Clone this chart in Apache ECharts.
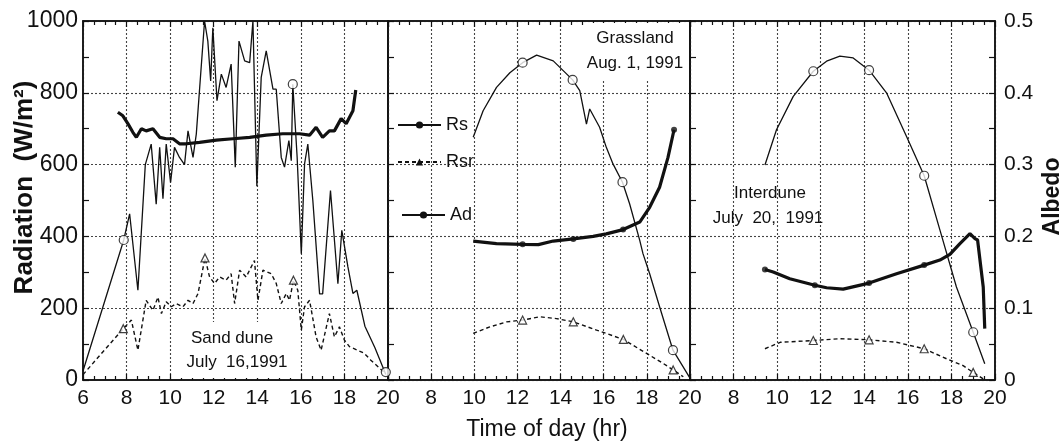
<!DOCTYPE html>
<html><head><meta charset="utf-8">
<script src="https://cdn.jsdelivr.net/npm/echarts@6/dist/echarts.min.js"></script>
<style>html,body{margin:0;padding:0;background:#fff}#c{width:1062px;height:443px}</style>
</head><body><div id="c"></div>
<script>
// ---- axes ----
const timeMin = 6, timeMax = 20, timeStep = 2;
const radMin = 0, radMax = 1000, radStep = 200;
const albMin = 0, albMax = 0.5, albStep = 0.1;
const panelNames = ['Sand dune', 'Grassland', 'Interdune'];
const seriesNames = ['Rs', 'Rsr', 'Ad'];

// ---- Sand dune, July 16, 1991 ----  [hour, W/m2] / [hour, albedo]
const duneRs = [[6.0,25],[7.87,390],[8.14,463],[8.52,250],[8.86,600],[9.13,657],[9.36,490],[9.52,648],[9.67,505],[9.82,657],[10.02,550],[10.2,648],[10.43,620],[10.66,600],[10.82,694],[11.05,620],[11.2,685],[11.58,1000],[11.73,944],[11.86,833],[11.96,981],[12.15,778],[12.35,852],[12.57,815],[12.8,880],[12.99,593],[13.16,944],[13.42,889],[13.65,884],[13.8,1000],[13.98,540],[14.18,843],[14.41,917],[14.72,810],[14.87,810],[15.1,620],[15.25,593],[15.45,667],[15.56,611],[15.63,824],[15.83,620],[16.02,352],[16.17,602],[16.32,657],[16.55,500],[16.86,240],[17.0,240],[17.36,528],[17.7,268],[17.88,417],[18.16,315],[18.39,241],[18.57,250],[18.94,150],[19.4,90],[19.9,15]];
const duneRsr = [[6.0,15],[7.85,143],[8.22,167],[8.52,83],[8.9,222],[9.21,194],[9.44,231],[9.6,185],[9.82,218],[10.05,204],[10.28,213],[10.59,204],[10.82,222],[11.05,213],[11.28,241],[11.6,340],[11.81,287],[12.04,269],[12.27,287],[12.57,278],[12.8,296],[12.96,213],[13.19,306],[13.49,287],[13.87,333],[14.03,222],[14.26,306],[14.64,296],[14.87,269],[15.1,213],[15.33,241],[15.48,222],[15.66,278],[15.86,250],[16.02,139],[16.17,204],[16.4,222],[16.7,120],[16.93,83],[17.31,185],[17.54,120],[17.77,148],[18.0,111],[18.23,93],[18.6,83],[18.9,75],[19.2,56],[19.85,20]];
const duneAd = [[7.6,0.373],[7.83,0.368],[8.06,0.357],[8.29,0.345],[8.45,0.338],[8.68,0.350],[8.9,0.347],[9.21,0.350],[9.52,0.338],[9.82,0.336],[10.13,0.336],[10.43,0.329],[10.74,0.329],[11.35,0.331],[12.12,0.334],[12.88,0.336],[13.65,0.338],[14.41,0.341],[15.17,0.343],[15.94,0.343],[16.4,0.341],[16.7,0.352],[17.0,0.338],[17.31,0.347],[17.54,0.347],[17.85,0.364],[18.08,0.357],[18.39,0.375],[18.52,0.404]];
const duneRsMarks = [[7.87,390],[15.63,824],[19.9,22]];
const duneRsrMarks = [[7.85,143],[11.6,340],[15.66,278]];
const duneAdMarks = [];

// ---- Grassland, Aug. 1, 1991 ----
const grassRs = [[9.95,676],[10.41,750],[11.03,815],[11.65,856],[12.24,884],[12.89,905],[13.66,889],[14.56,836],[14.89,806],[15.2,713],[15.35,755],[15.81,704],[16.12,648],[16.43,602],[16.87,551],[17.2,491],[17.67,389],[17.82,352],[18.13,296],[18.59,204],[19.21,83],[20.0,5]];
const grassRsr = [[9.95,130],[10.72,148],[11.5,162],[12.24,167],[13.04,176],[13.81,171],[14.59,162],[15.67,139],[16.91,113],[17.99,74],[18.76,46],[19.22,28],[19.69,9]];
const grassAd = [[9.95,0.1935],[11.03,0.190],[12.24,0.189],[12.97,0.1885],[13.66,0.1935],[14.59,0.1965],[15.51,0.200],[16.12,0.2035],[16.9,0.2095],[17.67,0.220],[18.13,0.2405],[18.59,0.2685],[18.98,0.310],[19.26,0.3485]];
const grassRsMarks = [[12.24,884],[14.56,836],[16.87,551],[19.21,83]];
const grassRsrMarks = [[12.24,167],[14.59,162],[16.91,113],[19.22,28]];
const grassAdMarks = [[12.24,0.189],[14.59,0.1965],[16.9,0.2095],[19.26,0.3485]];

// ---- Interdune, July 20, 1991 ----
const interRs = [[9.44,599],[9.97,697],[10.74,790],[11.66,860],[12.27,888],[12.88,902],[13.49,897],[14.22,863],[15.02,800],[15.94,678],[16.75,569],[17.47,418],[18.23,259],[19.0,133],[19.53,45]];
const interRsr = [[9.44,87],[10.14,105],[11.66,110],[12.88,115],[14.22,112],[15.48,105],[16.75,87],[17.78,59],[18.54,40],[19.0,21],[19.46,3]];
const interAd = [[9.44,0.154],[9.82,0.1505],[10.58,0.141],[11.73,0.132],[12.27,0.1285],[13.03,0.1265],[14.22,0.135],[15.48,0.148],[16.75,0.160],[17.47,0.167],[17.93,0.175],[18.39,0.190],[18.85,0.204],[19.08,0.197],[19.2,0.195],[19.46,0.1295],[19.53,0.0715]];
const interRsMarks = [[11.66,860],[14.22,863],[16.75,569],[19.0,133]];
const interRsrMarks = [[11.66,110],[14.22,112],[16.75,87],[19.0,21]];
const interAdMarks = [[9.44,0.154],[11.73,0.132],[14.22,0.135],[16.75,0.160]];

const panels = [
  {rs: duneRs, rsr: duneRsr, ad: duneAd, rsM: duneRsMarks, rsrM: duneRsrMarks, adM: duneAdMarks},
  {rs: grassRs, rsr: grassRsr, ad: grassAd, rsM: grassRsMarks, rsrM: grassRsrMarks, adM: grassAdMarks},
  {rs: interRs, rsr: interRsr, ad: interAd, rsM: interRsMarks, rsrM: interRsrMarks, adM: interAdMarks}
];

const INK = '#111';
const FONT = '"Liberation Sans", Arial, sans-serif';
const gridBoxes = [
  {left: 83, top: 21, width: 305, height: 359},
  {left: 388, top: 21, width: 302, height: 359},
  {left: 690, top: 21, width: 305, height: 359}
];
const dotted = {type: [2, 2], color: '#444', width: 1.1};

const grid = gridBoxes.map(b => Object.assign({show: true, borderColor: INK, borderWidth: 1.5, backgroundColor: 'transparent', outerBoundsMode: 'none'}, b));

const xAxis = [];
gridBoxes.forEach((b, i) => {
  xAxis.push({
    type: 'value', gridIndex: i, min: timeMin, max: timeMax, interval: timeStep,
    axisLine: {show: true, onZero: false, lineStyle: {color: INK, width: 1.5}},
    axisTick: {show: true, inside: true, length: 6, lineStyle: {color: INK, width: 1.2}},
    minorTick: {show: true, splitNumber: 4, length: 4, lineStyle: {color: INK, width: 1.2}},
    splitLine: {show: true, lineStyle: dotted},
    axisLabel: {show: true, fontSize: 21, color: INK, fontFamily: FONT, margin: 8,
      showMinLabel: i === 0, showMaxLabel: true, hideOverlap: false, formatter: v => String(v)},
    name: i === 1 ? 'Time of day (hr)' : '',
    nameLocation: 'middle', nameGap: 38, nameMoveOverlap: false,
    nameTextStyle: {fontSize: 23, color: INK, fontFamily: FONT, padding: [0, 0, 0, 16]}
  });
});
gridBoxes.forEach((b, i) => {
  xAxis.push({
    type: 'value', gridIndex: i, min: timeMin, max: timeMax, interval: timeStep, position: 'top',
    axisLine: {show: true, onZero: false, lineStyle: {color: INK, width: 1.5}},
    axisTick: {show: true, inside: true, length: 6, lineStyle: {color: INK, width: 1.2}},
    minorTick: {show: true, splitNumber: 4, length: 4, lineStyle: {color: INK, width: 1.2}},
    splitLine: {show: false}, axisLabel: {show: false}
  });
});

const yAxis = [];
gridBoxes.forEach((b, i) => {
  yAxis.push({
    type: 'value', gridIndex: i, min: radMin, max: radMax, interval: radStep, position: 'left',
    axisLine: {show: true, onZero: false, lineStyle: {color: INK, width: 1.5}},
    axisTick: {show: true, inside: true, length: 6, lineStyle: {color: INK, width: 1.2}},
    minorTick: {show: true, splitNumber: 2, length: 6, lineStyle: {color: INK, width: 1.2}},
    splitLine: {show: true, lineStyle: dotted},
    axisLabel: {show: i === 0, fontSize: 23, color: INK, fontFamily: FONT, margin: 5, hideOverlap: false,
      formatter: v => String(v)},
    name: i === 0 ? 'Radiation  (W/m²)' : '',
    nameLocation: 'middle', nameGap: 45, nameRotate: 90, nameMoveOverlap: false,
    nameTextStyle: {fontSize: 26, fontWeight: 'bold', color: INK, fontFamily: FONT, padding: [0, 0, 0, 26]}
  });
});
gridBoxes.forEach((b, i) => {
  yAxis.push({
    type: 'value', gridIndex: i, min: albMin, max: albMax, interval: albStep, position: 'right',
    show: i === 2,
    axisLine: {show: true, onZero: false, lineStyle: {color: INK, width: 1.5}},
    axisTick: {show: true, inside: true, length: 6, lineStyle: {color: INK, width: 1.2}},
    minorTick: {show: true, splitNumber: 2, length: 6, lineStyle: {color: INK, width: 1.2}},
    splitLine: {show: false},
    axisLabel: {show: true, fontSize: 21, color: INK, fontFamily: FONT, margin: 9, hideOverlap: false,
      formatter: v => (v === 0 ? '0' : v.toFixed(1))},
    name: i === 2 ? 'Albedo' : '',
    nameLocation: 'middle', nameGap: 46, nameRotate: 90, nameMoveOverlap: false,
    nameTextStyle: {fontSize: 23, fontWeight: 'bold', color: INK, fontFamily: FONT, padding: [0, 0, 0, 8]}
  });
});

const series = [];
panels.forEach((p, i) => {
  series.push({name: 'Rs', type: 'line', xAxisIndex: i, yAxisIndex: i, data: p.rs, symbol: 'circle', showSymbol: false,
    itemStyle: {color: INK}, lineStyle: {color: INK, width: 1.3}, z: 3, silent: true, animation: false});
  series.push({name: 'Rsr', type: 'line', xAxisIndex: i, yAxisIndex: i, data: p.rsr, symbol: 'triangle', showSymbol: false,
    itemStyle: {color: INK}, lineStyle: {color: INK, width: 1.4, type: [4, 3]}, z: 3, silent: true, animation: false});
  series.push({name: 'Ad', type: 'line', xAxisIndex: i, yAxisIndex: i + 3, data: p.ad, symbol: 'circle', showSymbol: false,
    itemStyle: {color: INK}, lineStyle: {color: INK, width: 3.2}, z: 4, silent: true, animation: false});
  series.push({name: 'Rs points', type: 'scatter', xAxisIndex: i, yAxisIndex: i, data: p.rsM, symbol: 'circle', symbolSize: 9,
    itemStyle: {color: '#fff', borderColor: INK, borderWidth: 1.2}, z: 5, silent: true, animation: false});
  series.push({name: 'Rsr points', type: 'scatter', xAxisIndex: i, yAxisIndex: i, data: p.rsrM, symbol: 'triangle', symbolSize: 8,
    itemStyle: {color: '#fff', borderColor: INK, borderWidth: 1.2}, z: 5, silent: true, animation: false});
  series.push({name: 'Ad points', type: 'scatter', xAxisIndex: i, yAxisIndex: i + 3, data: p.adM, symbol: 'circle', symbolSize: 6,
    itemStyle: {color: INK}, z: 5, silent: true, animation: false});
});

const legendBase = {orient: 'vertical', itemWidth: 43, itemHeight: 9, itemGap: 0, selectedMode: false,
  textStyle: {fontSize: 18, color: INK, fontFamily: FONT}};
const legend = [
  Object.assign({}, legendBase, {data: ['Rs'], left: 392, top: 111}),
  Object.assign({}, legendBase, {data: ['Rsr'], left: 392, top: 148}),
  Object.assign({}, legendBase, {data: ['Ad'], left: 396, top: 201})
];

const noteFont = 'normal 17px ' + FONT;
const graphic = [
  {type: 'rect', shape: {x: 176, y: 322, width: 122, height: 56}, style: {fill: '#fff'}, z: 1, silent: true},
  {type: 'rect', shape: {x: 585, y: 23, width: 103, height: 56}, style: {fill: '#fff'}, z: 1, silent: true},
  {type: 'text', x: 232, y: 338, z: 6, style: {text: 'Sand dune', font: noteFont, fill: INK, align: 'center', verticalAlign: 'middle'}},
  {type: 'text', x: 237, y: 362, z: 6, style: {text: 'July  16,1991', font: noteFont, fill: INK, align: 'center', verticalAlign: 'middle'}},
  {type: 'text', x: 635, y: 38, z: 6, style: {text: 'Grassland', font: noteFont, fill: INK, align: 'center', verticalAlign: 'middle'}},
  {type: 'text', x: 635, y: 63, z: 6, style: {text: 'Aug. 1, 1991', font: noteFont, fill: INK, align: 'center', verticalAlign: 'middle'}},
  {type: 'text', x: 770, y: 193, z: 6, style: {text: 'Interdune', font: noteFont, fill: INK, align: 'center', verticalAlign: 'middle'}},
  {type: 'text', x: 768, y: 218, z: 6, style: {text: 'July  20,  1991', font: noteFont, fill: INK, align: 'center', verticalAlign: 'middle'}}
];

const chart = echarts.init(document.getElementById('c'), null, {renderer: 'canvas'});
chart.setOption({
  backgroundColor: '#fff',
  animation: false,
  grid, xAxis, yAxis, series, legend, graphic,
  tooltip: {show: false}
});
</script>
</body></html>
